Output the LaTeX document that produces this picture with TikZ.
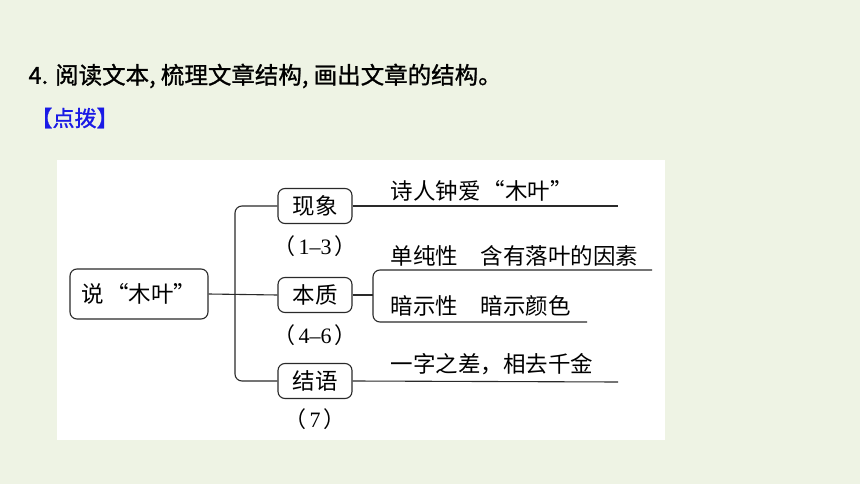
\documentclass[tikz,border=0pt]{standalone}
\usepackage{fontspec}
\setmainfont{Noto Sans CJK SC}
\newfontfamily\cjkheavy[FakeBold=1.1]{Noto Sans CJK SC}
\newfontfamily\numfont{Liberation Serif}
\usepackage{xcolor}
\usepackage{tikz}
\usetikzlibrary{positioning,calc}

\definecolor{pagebg}{HTML}{EEF3E4}
\definecolor{hintblue}{HTML}{1A1AE6}
\definecolor{inkline}{HTML}{2A2A2A}

\begin{document}
\begin{tikzpicture}[x=1pt, y=-1pt, line width=1.1pt,
    every node/.style={font=\fontsize{22.5}{26}\selectfont, inner sep=0pt, text=black},
    partbox/.style={draw=inkline, rounded corners=7pt, minimum width=74pt, minimum height=35pt},
    paranote/.style={font=\fontsize{22}{26}\selectfont},
    branchtext/.style={anchor=west}]
  \def\trunkx{235}

  % page and panel
  \fill[pagebg] (0,0) rectangle (860,484);
  \fill[white] (57,160) rectangle (665,440);
  \useasboundingbox (0,0) rectangle (860,484);

  \node[anchor=west, font=\fontsize{23.5}{27}\selectfont\cjkheavy] (task) at (28,76)
        {4. 阅读文本, 梳理文章结构, 画出文章的结构。};
  \node[anchor=west, text=hintblue, font=\fontsize{22}{26}\selectfont\cjkheavy] (hint) at (30,118) {【点拨】};

  % left part
  \node[partbox, minimum width=138pt, minimum height=50pt] (root) at (139,294) {说\hspace{2pt}“木叶”\hspace{4pt}};
  \node[partbox] (xianxiang) at (315,206) {现象};
  \node[partbox] (benzhi) at (315,295) {本质};
  \node[partbox] (jieyu) at (315,381) {结语};
  \node[paranote, below=11pt of xianxiang] (p1) {（\hspace{3pt}{\numfont 1–3}\hspace{3pt}）};
  \node[paranote, below=11pt of benzhi] (p2) {（\hspace{3pt}{\numfont 4–6}\hspace{3pt}）};
  \node[paranote, below=9pt of jieyu] (p3) {（\hspace{3pt}{\numfont 7}\hspace{3pt}）};

  \coordinate (trunk) at (\trunkx,295);
  \draw[inkline] (root.east) -- (benzhi.west);
  \draw[inkline, rounded corners=7pt] (xianxiang.west) -| (trunk) |- (jieyu.west);

  % right part
  \coordinate (xxend) at (618,206);
  \coordinate (bzfork) at (373,295);
  \coordinate (bztop) at (652,270);
  \coordinate (bzbot) at (587,322);
  \coordinate (jyend) at (618,382);

  \draw[inkline] (xianxiang.east) -- (xxend);
  \draw[inkline] (benzhi.east) -- (bzfork);
  \draw[inkline, rounded corners=7pt] (bztop) -| (bzfork) |- (bzbot);
  \draw[inkline] (jieyu.east) -- (jyend);

  \node[branchtext] (t1) at (390,191) {诗人钟爱\hspace{2pt}“木叶”};
  \node[branchtext] (t2) at (390,256) {单纯性\hspace{1em}含有落叶的因素};
  \node[branchtext] (t3) at (390,306) {暗示性\hspace{1em}暗示颜色};
  \node[branchtext] (t4) at (390,364) {一字之差，相去千金};
\end{tikzpicture}
\end{document}
